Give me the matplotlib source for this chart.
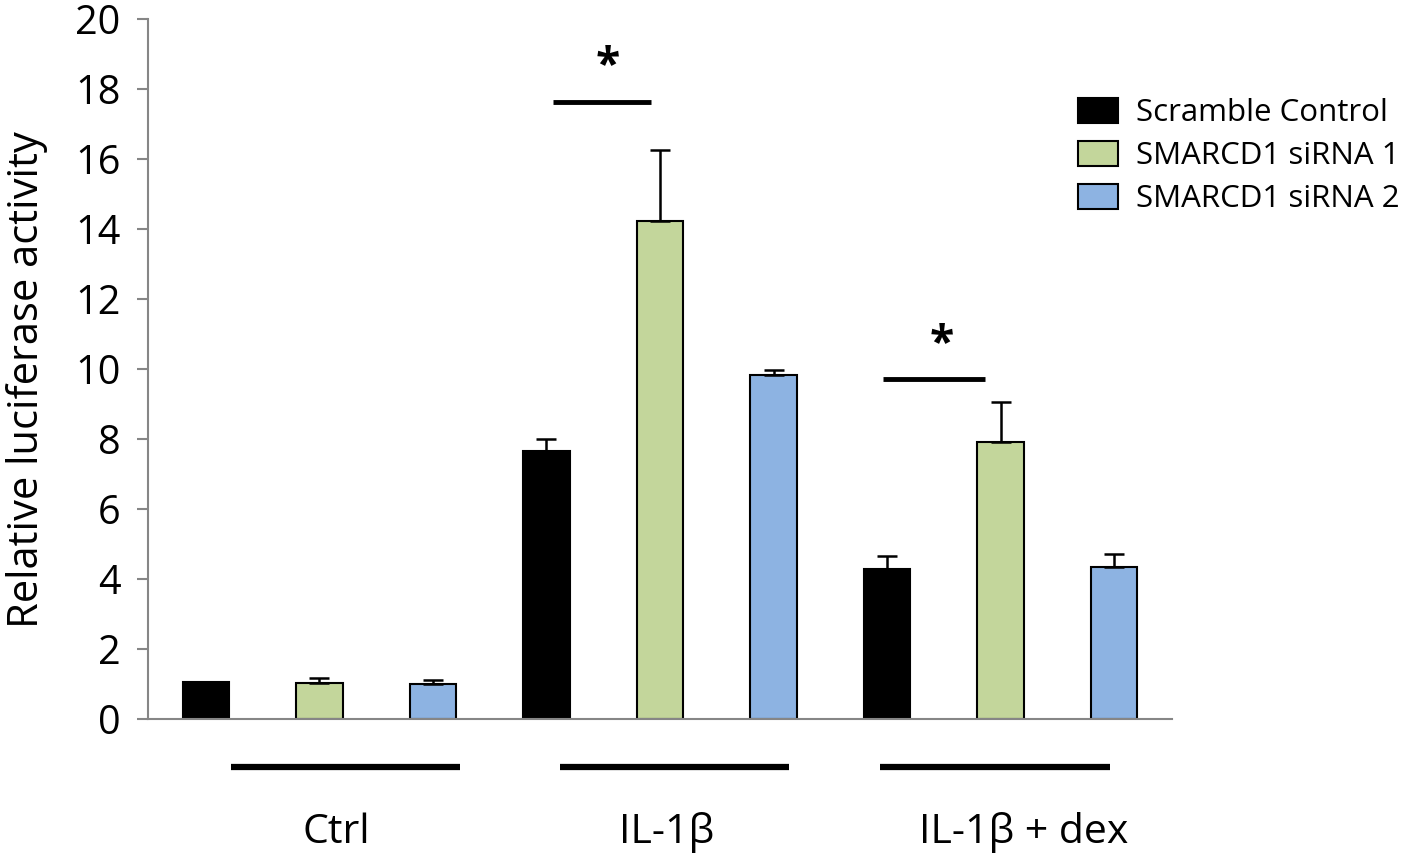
import numpy as np
import matplotlib
matplotlib.use("Agg")
import matplotlib.pyplot as plt

# values
groups = ["Ctrl", "IL-1β", "IL-1β + dex"]
series = ["Scramble Control", "SMARCD1 siRNA 1", "SMARCD1 siRNA 2"]
colors = ["#000000", "#C3D69B", "#8DB3E2"]
scramble = [1.05, 7.65, 4.28]
sirna1 = [1.02, 14.22, 7.90]
sirna2 = [1.00, 9.82, 4.33]
scramble_err = [0.0, 0.36, 0.37]
sirna1_err = [0.14, 2.03, 1.15]
sirna2_err = [0.11, 0.16, 0.37]

plt.rcParams["font.family"] = ["Open Sans", "DejaVu Sans"]

fig = plt.figure(figsize=(14.18, 8.59), dpi=100)
ax = fig.add_axes([0.1044, 0.1630, 0.7221, 0.8150])

vals = [scramble, sirna1, sirna2]
errs = [scramble_err, sirna1_err, sirna2_err]
for j in range(3):
    x = np.arange(3) * 3 + j
    ax.bar(x, vals[j], width=0.41, color=colors[j], edgecolor="black",
           linewidth=1.5, label=series[j], zorder=2)
    e = np.array(errs[j])
    show = e > 0
    ax.errorbar(x[show], np.array(vals[j])[show],
                yerr=[np.zeros(show.sum()), e[show]],
                fmt="none", ecolor="black", elinewidth=1.8, capsize=7,
                capthick=1.8, zorder=3)

ax.set_xlim(-0.51, 8.51)
ax.set_ylim(0, 20)
ax.set_yticks(range(0, 21, 2))
ax.set_xticks([])
for s in ["top", "right"]:
    ax.spines[s].set_visible(False)
for s in ["left", "bottom"]:
    ax.spines[s].set_color("#868686")
    ax.spines[s].set_linewidth(1.5)
ax.tick_params(axis="y", length=8, width=1.5, color="#868686",
               labelsize=28.5, pad=12)
ax.set_ylabel("Relative luciferase activity", fontsize=30)
ax.yaxis.set_label_coords(-0.098, 0.485)

# group bars and labels under the axis
line_start = [0.22, 3.12, 5.94]
for x0 in line_start:
    ax.plot([x0, x0 + 2.02], [-1.37, -1.37], color="black", lw=4.5,
            clip_on=False, solid_capstyle="butt")
label_x = [1.15, 4.06, 7.2]
for lx, g in zip(label_x, groups):
    ax.text(lx, -3.25, g, ha="center", va="center", fontsize=29.5,
            clip_on=False)

# significance marks
ax.plot([3.06, 3.92], [17.63, 17.63], color="black", lw=3.5,
        solid_capstyle="butt")
ax.text(3.54, 18.65, "*", ha="center", va="center", fontsize=32,
        fontweight="bold")
ax.plot([5.96, 6.86], [9.72, 9.72], color="black", lw=3.5,
        solid_capstyle="butt")
ax.text(6.48, 10.7, "*", ha="center", va="center", fontsize=32,
        fontweight="bold")

leg = fig.legend(*ax.get_legend_handles_labels(), loc="upper left",
                 bbox_to_anchor=(1078 / 1418, 1 - 98 / 859), frameon=False,
                 fontsize=22.5, handlelength=1.27, handleheight=0.87,
                 labelspacing=0.4, handletextpad=0.6, borderpad=0,
                 borderaxespad=0)

fig.savefig("out.png", dpi=100)
